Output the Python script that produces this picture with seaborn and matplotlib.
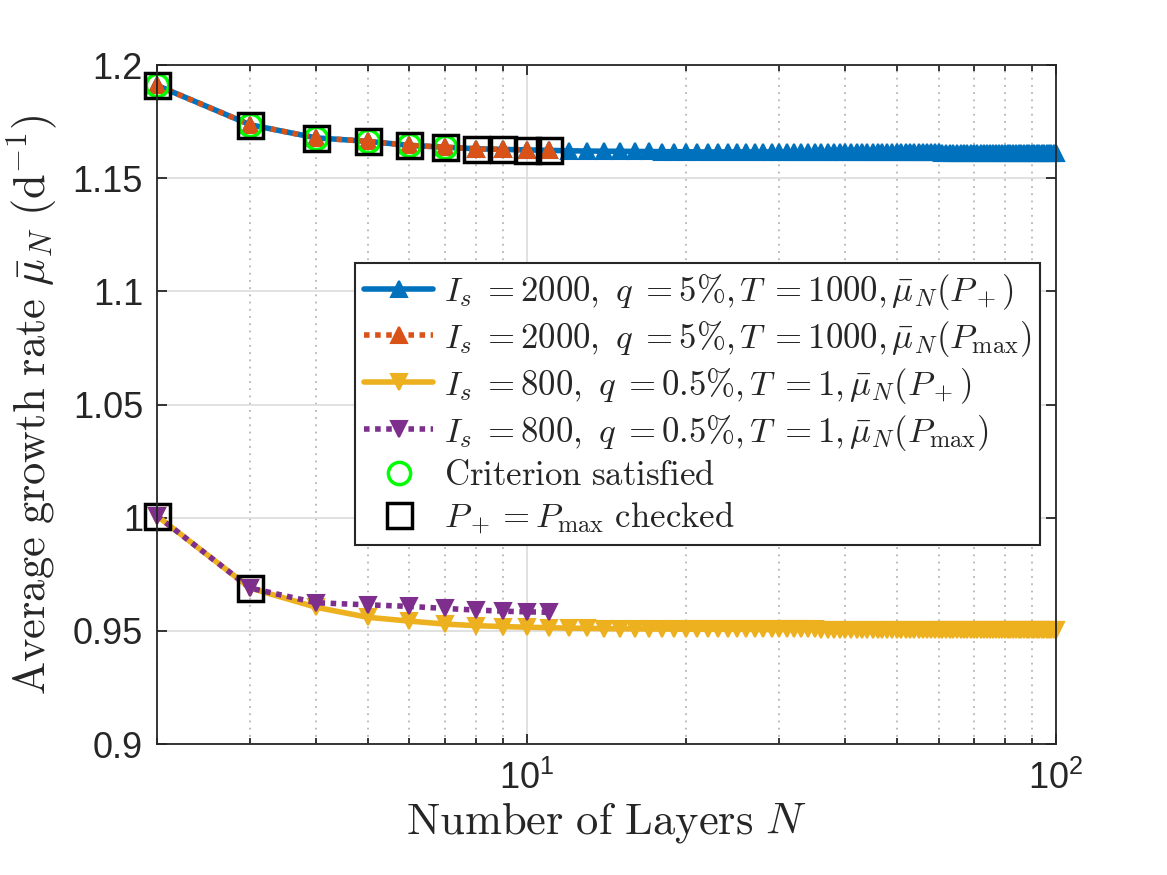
import matplotlib
matplotlib.use("Agg")
import matplotlib.pyplot as plt
from matplotlib.ticker import LogLocator, FixedLocator, FixedFormatter, NullFormatter
import seaborn as sns

# ---------------- data ----------------
N_full = list(range(2, 101))
N_short = list(range(2, 12))

mu_hi_plus = [1.1910, 1.1736, 1.1678, 1.1663, 1.1645, 1.1637, 1.1630, 1.1627, 1.1625, 1.1623,
              1.1621, 1.1620, 1.1619, 1.1619, 1.1618, 1.1618, 1.1617, 1.1617, 1.1617,
              1.1616, 1.1616, 1.1616, 1.1616, 1.1616, 1.1616, 1.1616, 1.1616, 1.1616, 1.1616,
              1.1615, 1.1615, 1.1615, 1.1615, 1.1615, 1.1615, 1.1615, 1.1615, 1.1615, 1.1615,
              1.1614, 1.1614, 1.1614, 1.1614, 1.1614, 1.1614, 1.1614, 1.1614, 1.1614, 1.1614,
              1.1614, 1.1614, 1.1614, 1.1614, 1.1614, 1.1614, 1.1614, 1.1614, 1.1614, 1.1614,
              1.1613, 1.1613, 1.1613, 1.1613, 1.1613, 1.1613, 1.1613, 1.1613, 1.1613, 1.1613,
              1.1613, 1.1613, 1.1613, 1.1613, 1.1613, 1.1613, 1.1613, 1.1613, 1.1613, 1.1613,
              1.1613, 1.1613, 1.1613, 1.1613, 1.1613, 1.1613, 1.1613, 1.1613, 1.1613, 1.1613,
              1.1613, 1.1613, 1.1613, 1.1613, 1.1613, 1.1613, 1.1613, 1.1613, 1.1613, 1.1613]
mu_hi_max = [1.1910, 1.1736, 1.1678, 1.1663, 1.1645, 1.1637, 1.1630, 1.1627, 1.1625, 1.1623]

mu_lo_plus = [1.0008, 0.9689, 0.9604, 0.9560, 0.9543, 0.9530, 0.9523, 0.9519, 0.9516, 0.9514,
              0.9512, 0.9511, 0.9510, 0.9509, 0.9509, 0.9508, 0.9508, 0.9508, 0.9507,
              0.9507, 0.9507, 0.9507, 0.9507, 0.9507, 0.9507, 0.9506, 0.9506, 0.9506, 0.9506,
              0.9506, 0.9506, 0.9506, 0.9506, 0.9506, 0.9504, 0.9504, 0.9504, 0.9504, 0.9504,
              0.9504, 0.9504, 0.9504, 0.9504, 0.9504, 0.9504, 0.9504, 0.9504, 0.9504, 0.9504,
              0.9504, 0.9504, 0.9504, 0.9504, 0.9504, 0.9504, 0.9504, 0.9504, 0.9504, 0.9504,
              0.9503, 0.9503, 0.9503, 0.9503, 0.9503, 0.9503, 0.9503, 0.9503, 0.9503, 0.9503,
              0.9503, 0.9503, 0.9503, 0.9503, 0.9503, 0.9503, 0.9503, 0.9503, 0.9503, 0.9503,
              0.9503, 0.9503, 0.9503, 0.9503, 0.9503, 0.9503, 0.9503, 0.9503, 0.9503, 0.9503,
              0.9503, 0.9503, 0.9503, 0.9503, 0.9503, 0.9503, 0.9503, 0.9503, 0.9503, 0.9503]
mu_lo_max = [1.0008, 0.9689, 0.9624, 0.9615, 0.9608, 0.9599, 0.9592, 0.9587, 0.9584, 0.9582]

crit_N = [2, 3, 4, 5, 6, 7]
crit_mu = [1.1910, 1.1736, 1.1678, 1.1663, 1.1645, 1.1637]
check_hi_N = [2, 3, 4, 5, 6, 7, 8, 9, 10, 11]
check_hi_mu = [1.1910, 1.1736, 1.1678, 1.1663, 1.1645, 1.1637, 1.1630, 1.1627, 1.1625, 1.1623]
check_lo_N = [2, 3]
check_lo_mu = [1.0008, 0.9689]

y_ticks = [0.9, 0.95, 1.0, 1.05, 1.1, 1.15, 1.2]
y_ticklabels = ["0.9", "0.95", "1", "1.05", "1.1", "1.15", "1.2"]

labels = [
    r"$I_s\;{=}2000,\ q\;{=}5\%{,}\,T\;{=}1000{,}\,\bar{\mu}_N(P_+)$",
    r"$I_s\;{=}2000,\ q\;{=}5\%{,}\,T\;{=}1000{,}\,\bar{\mu}_N(P_{\max})$",
    r"$I_s\;{=}800,\ q\;{=}0.5\%{,}\,T\;{=}1{,}\,\bar{\mu}_N(P_+)$",
    r"$I_s\;{=}800,\ q\;{=}0.5\%{,}\,T\;{=}1{,}\,\bar{\mu}_N(P_{\max})$",
    r"$\mathrm{Criterion\ satisfied}$",
    r"$P_+=P_{\max}\ \mathrm{checked}$",
]

# ---------------- style ----------------
sns.set_style("ticks")
plt.rcParams["font.family"] = ["Liberation Sans", "DejaVu Sans"]
plt.rcParams["mathtext.fontset"] = "cm"
dark = "#262626"

fig = plt.figure(figsize=(11.67, 8.75), dpi=100)
ax = fig.add_axes([0.1345, 0.1497, 0.7704, 0.7760])

blue, orange, yellow, purple = "#0072BD", "#D95319", "#EDB120", "#7E2F8E"
lw = 4.0
dot = (0, (1.0, 1.0))
ms = 11

common = dict(ax=ax, sort=False, errorbar=None, estimator=None)

sns.lineplot(x=N_full, y=mu_hi_plus, color=blue, linewidth=lw, marker="^",
             markersize=ms, markeredgecolor=blue, markerfacecolor=blue, markeredgewidth=1.5, **common)
sns.lineplot(x=N_short, y=mu_hi_max, color=orange, linewidth=lw, linestyle=dot, marker="^",
             markersize=ms, markeredgecolor=orange, markerfacecolor=orange, markeredgewidth=1.5, **common)
sns.lineplot(x=N_full, y=mu_lo_plus, color=yellow, linewidth=lw, marker="v",
             markersize=ms, markeredgecolor=yellow, markerfacecolor=yellow, markeredgewidth=1.5, **common)
sns.lineplot(x=N_short, y=mu_lo_max, color=purple, linewidth=lw, linestyle=dot, marker="v",
             markersize=ms, markeredgecolor=purple, markerfacecolor=purple, markeredgewidth=1.5, **common)
sns.lineplot(x=crit_N, y=crit_mu, linestyle="none", marker="o", markersize=16,
             markerfacecolor="none", markeredgecolor="#00FF00", markeredgewidth=2.5, **common)
sns.lineplot(x=check_hi_N, y=check_hi_mu, linestyle="none", marker="s", markersize=18,
             markerfacecolor="none", markeredgecolor="black", markeredgewidth=2.5, **common)
sns.lineplot(x=check_lo_N, y=check_lo_mu, linestyle="none", marker="s", markersize=18,
             markerfacecolor="none", markeredgecolor="black", markeredgewidth=2.5, **common)

for ln in ax.lines:
    ln.set_clip_on(False)

ax.set_xscale("log")
ax.set_xlim(2, 100)
ax.set_ylim(0.9, 1.2)
ax.xaxis.set_major_locator(FixedLocator([10, 100]))
ax.xaxis.set_minor_locator(LogLocator(base=10, subs=(2, 3, 4, 5, 6, 7, 8, 9)))
ax.xaxis.set_minor_formatter(NullFormatter())
ax.yaxis.set_major_locator(FixedLocator(y_ticks))
ax.yaxis.set_major_formatter(FixedFormatter(y_ticklabels))

ax.grid(which="major", color="#dedede", linestyle="-", linewidth=1.3)
ax.grid(which="minor", axis="x", color="#b5b5b5", linestyle=(0, (1, 3)), linewidth=1.3)
ax.set_axisbelow(True)

for sp in ax.spines.values():
    sp.set_visible(True)
    sp.set_color(dark)
    sp.set_linewidth(1.3)
ax.tick_params(which="both", direction="in", top=True, right=True, colors=dark,
               labelcolor=dark, width=1.3)
ax.tick_params(which="major", length=7, labelsize=26, pad=10)
ax.tick_params(which="minor", length=4)
ax.tick_params(axis="x", which="major", pad=12)

ax.set_xlabel(r"$\mathrm{Number\ of\ Layers}\ N$", fontsize=32, color=dark, labelpad=2)
ax.set_ylabel(r"$\mathrm{Average\ growth\ rate}\ \bar{\mu}_N\ (\mathrm{d}^{-1})$", fontsize=32,
              color=dark, labelpad=10)

handles = ax.lines[:6]
leg = ax.legend(handles, labels, loc="upper right", bbox_to_anchor=(1040 / 1167, 1 - 263 / 875),
                bbox_transform=fig.transFigure, borderaxespad=0, fontsize=25, frameon=True,
                fancybox=False, edgecolor=dark, framealpha=1, handlelength=2.0,
                handletextpad=0.3, labelspacing=0.2, borderpad=0.25)
leg.get_frame().set_linewidth(1.5)

fig.savefig("out.png", dpi=100)
